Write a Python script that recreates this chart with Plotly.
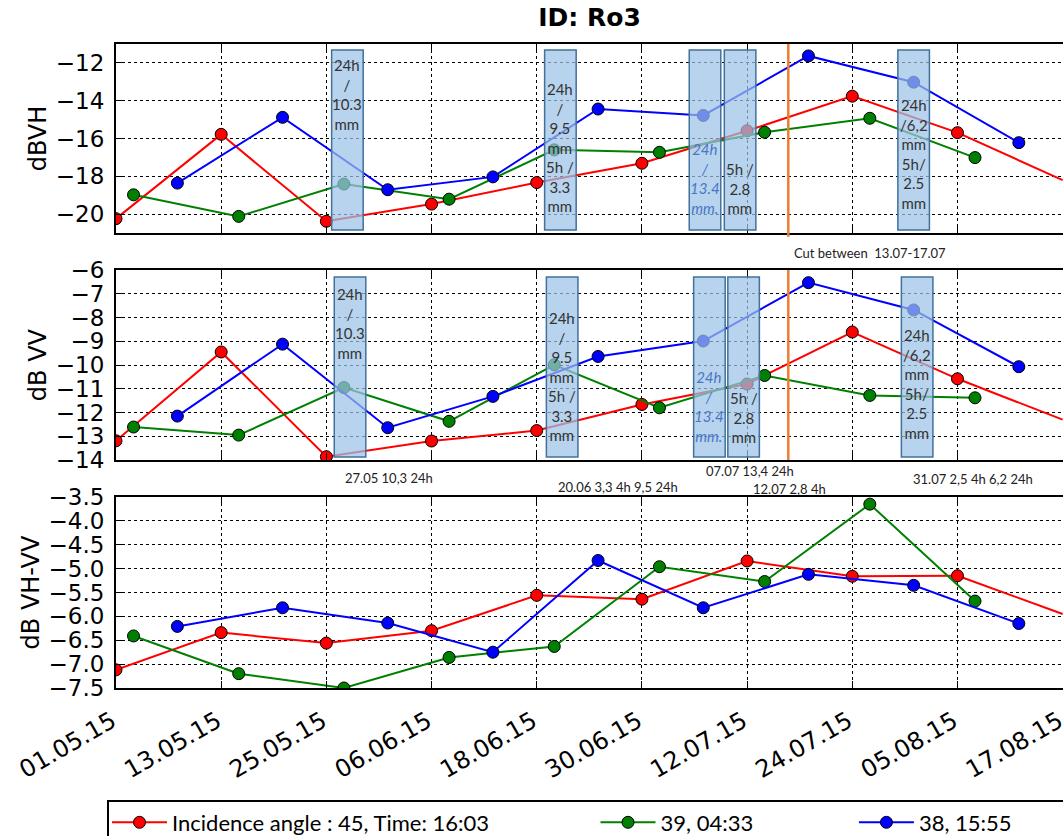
import pandas as pd
import plotly.graph_objects as go
from plotly.subplots import make_subplots

# ---------------- data ----------------
red_dates = ["2015-05-01", "2015-05-13", "2015-05-25", "2015-06-06", "2015-06-18",
             "2015-06-30", "2015-07-12", "2015-07-24", "2015-08-05", "2015-08-17"]
green_dates = ["2015-05-03", "2015-05-15", "2015-05-27", "2015-06-08", "2015-06-20",
               "2015-07-02", "2015-07-14", "2015-07-26", "2015-08-07"]
blue_dates = ["2015-05-08", "2015-05-20", "2015-06-01", "2015-06-13", "2015-06-25",
              "2015-07-07", "2015-07-19", "2015-07-31", "2015-08-12"]

red_vh = [-20.24, -15.78, -20.38, -19.47, -18.33, -17.31, -15.59, -13.76, -15.69, -18.2]
green_vh = [-18.98, -20.12, -18.41, -19.21, -16.60, -16.73, -15.67, -14.93, -17.01]
blue_vh = [-18.36, -14.88, -18.71, -18.03, -14.44, -14.78, -11.63, -13.02, -16.22]

red_vv = [-13.19, -9.45, -13.86, -13.20, -12.76, -11.66, -10.80, -8.61, -10.58, -12.3]
green_vv = [-12.61, -12.95, -10.95, -12.37, -9.99, -11.80, -10.44, -11.28, -11.38]
blue_vv = [-12.15, -9.12, -12.64, -11.32, -9.64, -8.99, -6.53, -7.68, -10.07]

red_diff = [-7.12, -6.34, -6.56, -6.30, -5.56, -5.64, -4.84, -5.16, -5.15, -5.95]
green_diff = [-6.41, -7.20, -7.50, -6.86, -6.63, -4.96, -5.27, -3.65, -5.68]
blue_diff = [-6.21, -5.82, -6.14, -6.75, -4.83, -5.82, -5.12, -5.35, -6.15]

series_names = ["Incidence angle : 45, Time: 16:03", "39, 04:33", "38, 15:55"]
series_colors = ["#ff0000", "#008000", "#0000ff"]

y_titles = ["dBVH", "dB VV", "dB VH-VV"]
title_text = "ID: Ro3"

# rain events: label text shown in the boxes
rain_labels = ["24h<br>/<br>10.3<br>mm",
               "24h<br>/<br>9.5<br>mm<br>5h /<br>3.3<br>mm",
               "<i>24h<br>/<br>13.4<br>mm.</i>",
               "5h /<br>2.8<br>mm",
               "24h<br>/6,2<br>mm<br>5h/<br>2.5<br>mm"]
rain_notes = ["27.05 10,3 24h", "20.06 3,3 4h 9,5 24h", "07.07 13,4 24h",
              "12.07 2,8 4h", "31.07 2,5 4h 6,2 24h"]
cut_note = "Cut between  13.07-17.07"

# ---------------- layout helpers (positions / styles) ----------------
start = pd.Timestamp("2015-05-01")
def day(d):
    return start + pd.Timedelta(days=d)

box_center_days = [[26.4, 50.7, 67.2, 71.2, 91.0],
                   [26.7, 50.9, 67.7, 71.6, 91.4]]
box_half = 1.8
text_ydom = [[0.735, 0.455, 0.291, 0.238, 0.418],
             [0.716, 0.442, 0.284, 0.226, 0.400]]
box_ydom = [[0.016, 0.968], [0.016, 0.963]]
note_pos = [(31.2, 0.326), (57.3, 0.312), (72.3, 0.337), (76.8, 0.309), (97.8, 0.3245)]
cut_day = 76.7

fig = make_subplots(rows=3, cols=1, shared_xaxes=True)

all_dates = [red_dates, green_dates, blue_dates]
panels = [[red_vh, green_vh, blue_vh], [red_vv, green_vv, blue_vv],
          [red_diff, green_diff, blue_diff]]
pad = "\u00a0"
legend_names = [series_names[0] + pad * 18, series_names[1] + pad * 17,
                series_names[2] + pad * 12]
for r, panel in enumerate(panels, start=1):
    for i, vals in enumerate(panel):
        dates = all_dates[i]
        if i == 0:
            # last red acquisition lies on the right border (cropped in the
            # original): draw its segment as a line only
            fig.add_trace(go.Scatter(
                x=dates[-2:], y=vals[-2:], mode="lines", showlegend=False,
                line=dict(color=series_colors[i], width=2)), row=r, col=1)
            dates, vals = dates[:-1], vals[:-1]
        fig.add_trace(go.Scatter(
            x=dates, y=vals, mode="lines+markers",
            name=legend_names[i], legendgroup=str(i), showlegend=(r == 1),
            line=dict(color=series_colors[i], width=2),
            marker=dict(color=series_colors[i], size=12,
                        line=dict(color="black", width=1)),
        ), row=r, col=1)

domains = [[0.7065, 1.0], [0.354, 0.649], [0.0, 0.2966]]
yranges = [[-21, -11], [-14, -6], [-7.5, -3.5]]
ydticks = [2, 1, 0.5]
ytick0 = [-20, -14, -7.5]
tickfont = dict(family="DejaVu Sans", size=23, color="black")

for r in range(1, 4):
    fig.update_xaxes(
        type="date", range=[start, day(108.04)], tick0="2015-05-01",
        dtick=12 * 86400000, tickformat="%d.%m.%y", tickangle=-30,
        showgrid=True, gridcolor="black", griddash="dot", gridwidth=1,
        ticks="inside", ticklen=7, tickcolor="black", tickwidth=1,
        showline=True, linecolor="black", linewidth=2, mirror="ticks",
        zeroline=False, tickfont=dict(family="DejaVu Sans", size=24, color="black"),
        showticklabels=(r == 3), automargin=False, ticklabeloverflow="allow",
        ticklabelshift=-4, ticklabelstandoff=8,
        row=r, col=1)
    fig.update_yaxes(
        domain=domains[r - 1], range=yranges[r - 1], dtick=ydticks[r - 1],
        tick0=ytick0[r - 1], tickformat=".1f" if r == 3 else "d",
        showgrid=True, gridcolor="black", griddash="dot", gridwidth=1,
        ticks="inside", ticklen=7, tickcolor="black", tickwidth=1,
        showline=True, linecolor="black", linewidth=2, mirror=False,
        zeroline=False, tickfont=tickfont, automargin=False, ticklabelstandoff=5,
        title=dict(text=y_titles[r - 1], standoff=2,
                   font=dict(family="DejaVu Sans", size=24, color="black")),
        row=r, col=1)

shapes = []
annotations = []
box_fill = "rgba(155,194,230,0.72)"
box_line = "#41719c"
for p in range(2):
    yref = "y domain" if p == 0 else "y2 domain"
    xref = "x" if p == 0 else "x2"
    for k, c in enumerate(box_center_days[p]):
        shapes.append(dict(type="rect", xref=xref, yref=yref,
                           x0=day(c - box_half), x1=day(c + box_half),
                           y0=box_ydom[p][0], y1=box_ydom[p][1],
                           fillcolor=box_fill, line=dict(color=box_line, width=1.5),
                           layer="above"))
        italic = k == 2
        annotations.append(dict(
            xref=xref, yref=yref, x=day(c), y=text_ydom[p][k],
            xanchor="center", yanchor="middle",
            text=rain_labels[k], showarrow=False, align="center",
            font=dict(family="Lato", size=15,
                      color="#4a76c6" if italic else "#333333")))
    shapes.append(dict(type="line", xref=xref, yref=yref,
                       x0=day(cut_day), x1=day(cut_day),
                       y0=-0.02 if p == 0 else 0.0, y1=1.0,
                       line=dict(color="#ed7d31", width=2.5), layer="above"))

for (d, yp), txt in zip(note_pos, rain_notes):
    annotations.append(dict(xref="x3", yref="paper", x=day(d), y=yp, text=txt,
                            xanchor="center", yanchor="middle",
                            showarrow=False, font=dict(family="Lato", size=13,
                                                       color="#222222")))
annotations.append(dict(xref="x3", yref="paper", x=day(cut_day), y=0.675,
                        xanchor="left", yanchor="middle", xshift=4, text=cut_note,
                        showarrow=False,
                        font=dict(family="Lato", size=13, color="#222222")))

fig.update_layout(
    template="none",
    width=1063, height=836,
    margin=dict(l=116, r=0, t=44, b=148, autoexpand=False),
    paper_bgcolor="white", plot_bgcolor="white",
    title=dict(text="<b>" + title_text + "</b>", x=0.5, xref="paper",
               y=1 - 17 / 836, yref="container", xanchor="center", yanchor="middle",
               font=dict(family="DejaVu Sans", size=25, color="black")),
    shapes=shapes, annotations=annotations,
    legend=dict(orientation="h", x=-9 / 947, xanchor="left",
                y=-(800 - 688) / 644, yanchor="top",
                bordercolor="black", borderwidth=1.5, bgcolor="white",
                font=dict(family="Lato", size=22, color="black"),
                itemwidth=55),
    showlegend=True,
)

fig.write_html("out.html", config={"displayModeBar": False},
               post_script="document.documentElement.style.margin='0';"
                           "document.body.style.margin='0';")
